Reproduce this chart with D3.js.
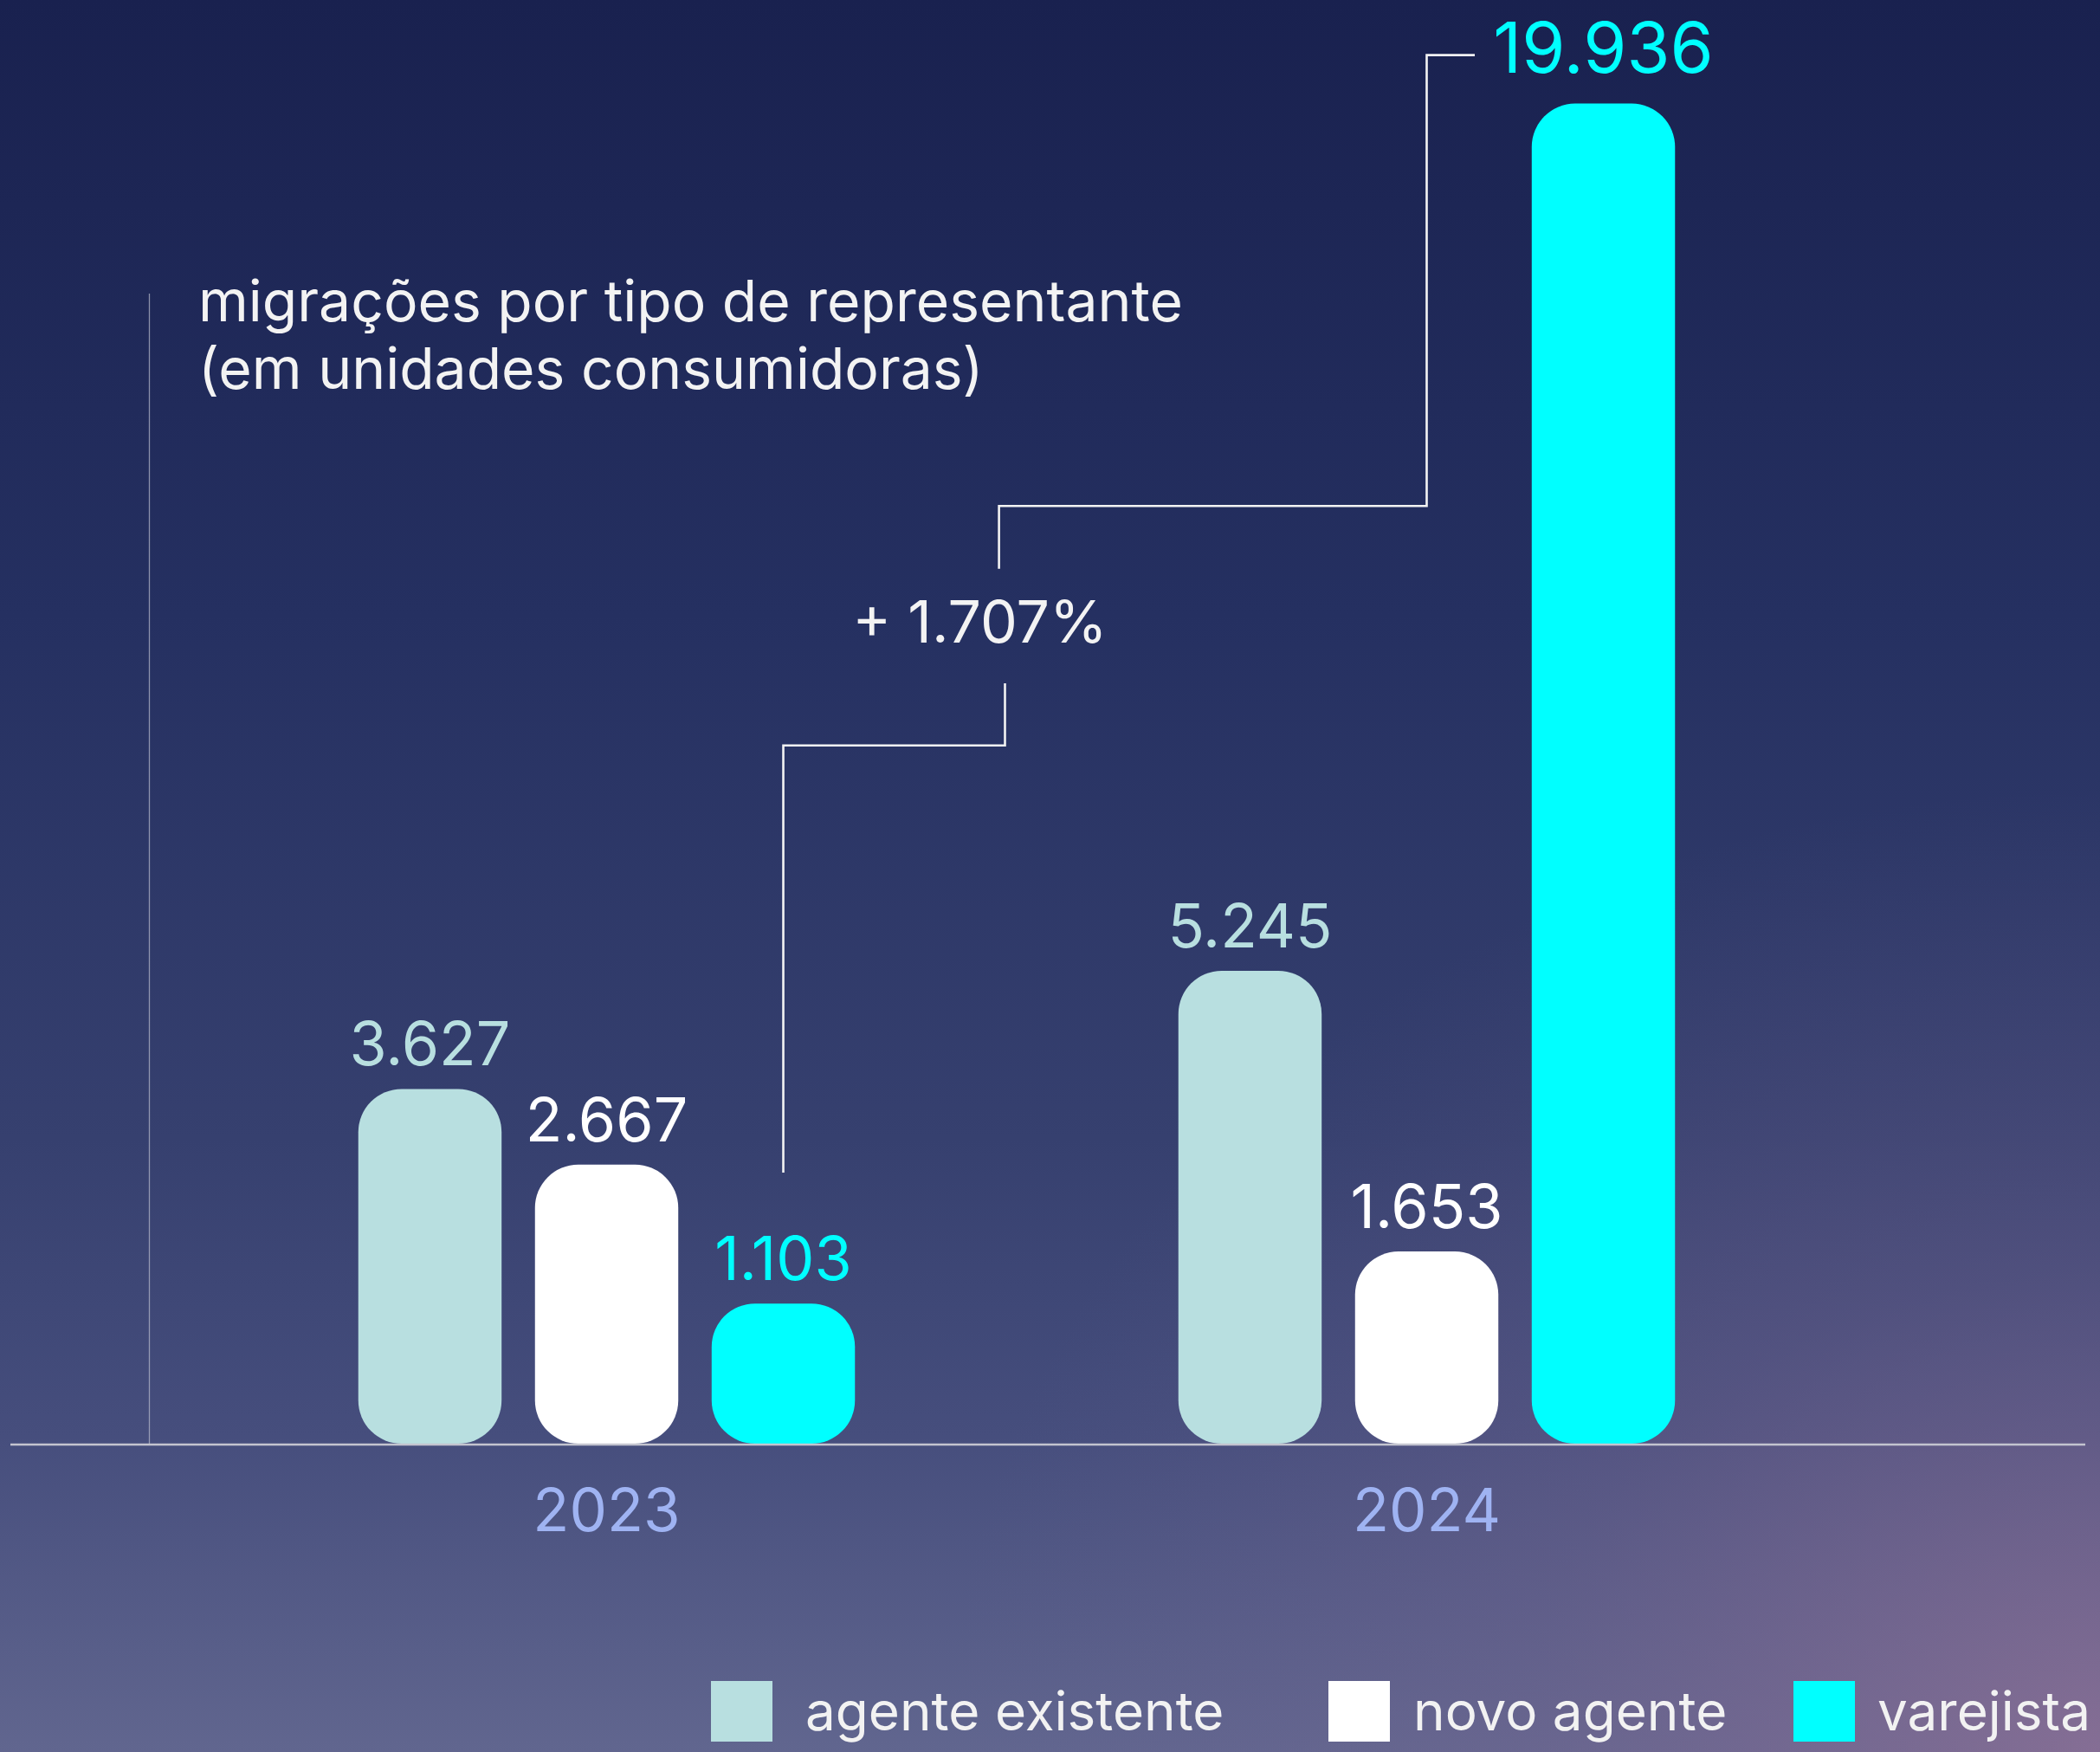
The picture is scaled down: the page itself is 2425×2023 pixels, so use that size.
<!DOCTYPE html>
<html>
<head>
<meta charset="utf-8">
<script src="https://cdn.jsdelivr.net/npm/d3@7"></script>
<style>
  html, body { margin: 0; padding: 0; background: #1a2251; }
  svg { display: block; }
  text { font-family: Inter, "Noto Sans", sans-serif; }
</style>
</head>
<body>
<script>
// ---- data ----
const years = ["2023", "2024"];
const seriesNames = ["agente existente", "novo agente", "varejista"];
const agenteExistente = [3627, 5245];
const novoAgente = [2667, 1653];
const varejista = [1103, 19936];
const seriesColors = ["#b8dfe0", "#ffffff", "#00ffff"];
const titleLines = ["migrações por tipo de representante", "(em unidades consumidoras)"];

const W = 2425, H = 2023;
const baseY = 1667;

const fmt = d3.formatLocale({decimal: ",", thousands: ".", grouping: [3], currency: ["R$", ""]}).format(",d");

const rows = years.map((y, i) => ({
  year: y,
  values: [agenteExistente[i], novoAgente[i], varejista[i]]
}));

const svg = d3.select("body").append("svg").attr("width", W).attr("height", H);
const defs = svg.append("defs");

// background
const lg = defs.append("linearGradient").attr("id", "bg").attr("x1", 0).attr("y1", 0).attr("x2", 0).attr("y2", 1);
[[0, "#19214f"], [0.35, "#253061"], [0.65, "#36406f"], [0.82, "#464e7d"], [1, "#61668f"]]
  .forEach(([o, c]) => lg.append("stop").attr("offset", o).attr("stop-color", c));
svg.append("rect").attr("width", W).attr("height", H).attr("fill", "url(#bg)");
const rg = defs.append("radialGradient").attr("id", "glow").attr("cx", 1).attr("cy", 1).attr("r", 0.55);
rg.append("stop").attr("offset", 0).attr("stop-color", "#8e7096").attr("stop-opacity", 0.8);
rg.append("stop").attr("offset", 0.5).attr("stop-color", "#7a6690").attr("stop-opacity", 0.3);
rg.append("stop").attr("offset", 1).attr("stop-color", "#6a6090").attr("stop-opacity", 0);
svg.append("rect").attr("width", W).attr("height", H).attr("fill", "url(#glow)");

// scales
const x0 = d3.scaleBand().domain(years).range([227, 2121]).padding(0);
const x1 = d3.scaleBand().domain(seriesNames).range([0, 573.5]).paddingInner(0.189).paddingOuter(0);
const maxV = d3.max(rows, r => d3.max(r.values));
const y = d3.scalePow().exponent(0.78).domain([0, maxV]).range([baseY, 119.6]);
const color = d3.scaleOrdinal().domain(seriesNames).range(seriesColors);

const groupLeft = yr => x0(yr) + x0.bandwidth() / 2 - 573.5 / 2;

// left thin vertical line
svg.append("line").attr("x1", 172.5).attr("x2", 172.5).attr("y1", 339).attr("y2", baseY)
  .attr("stroke", "#b9bccd").attr("stroke-opacity", 0.7).attr("stroke-width", 1.3);

// title
svg.append("text").attr("x", 229).attr("y", 371).attr("fill", "#f3f3f3").attr("font-size", 66)
  .selectAll("tspan").data(titleLines).join("tspan")
  .attr("x", 229).attr("dy", (d, i) => i === 0 ? 0 : 78).text(d => d);

// bars
const groups = svg.selectAll("g.grp").data(rows).join("g").attr("class", "grp")
  .attr("transform", d => `translate(${groupLeft(d.year)},0)`);

const cells = groups.selectAll("g.cell")
  .data(d => d.values.map((v, i) => ({year: d.year, key: seriesNames[i], value: v})))
  .join("g").attr("class", "cell");

cells.append("rect")
  .attr("x", d => x1(d.key)).attr("width", x1.bandwidth())
  .attr("y", d => y(d.value)).attr("height", d => baseY - y(d.value))
  .attr("rx", 50).attr("ry", 50)
  .attr("fill", d => color(d.key));

cells.append("text")
  .attr("x", d => x1(d.key) + x1.bandwidth() / 2)
  .attr("y", d => y(d.value) - (d.value === maxV ? 36 : 27))
  .attr("text-anchor", "middle")
  .attr("font-size", d => d.value === maxV ? 81 : 70)
  .attr("fill", d => color(d.key))
  .text(d => fmt(d.value));

// axis baseline
const xAxis = d3.axisBottom(x0).tickSize(0).tickPadding(0);
const ax = svg.append("g").attr("transform", `translate(0,${baseY})`).call(xAxis);
ax.select(".domain").remove();
ax.selectAll(".tick text").attr("y", 101).attr("dy", 0).attr("font-size", 69)
  .attr("font-family", "Inter, sans-serif").attr("fill", "#9fb3f2");
svg.append("line").attr("x1", 12).attr("x2", 2408).attr("y1", baseY + 1).attr("y2", baseY + 1)
  .attr("stroke", "#c3c4cf").attr("stroke-width", 2.6);

// growth annotation
const v0 = varejista[0], v1 = varejista[1];
const growth = Math.round((v1 - v0) / v0 * 100);
const startX = groupLeft(years[0]) + x1("varejista") + x1.bandwidth() / 2;
const endX = x0(years[1]) + x0.bandwidth() / 2;
const labelTopY = y(maxV) - 56;
const lower = [[startX, 1354], [startX, 860.7], [1160.5, 860.7], [1160.5, 789]];
const upper = [[1153.6, 656.7], [1153.6, 584.3], [endX, 584.3], [endX, labelTopY], [1703, labelTopY]];
const line = d3.line();
[lower, upper].forEach(p => svg.append("path").attr("d", line(p)).attr("fill", "none")
  .attr("stroke", "#f3f3f3").attr("stroke-width", 2.6));
svg.append("text").attr("x", 1131.5).attr("y", 742).attr("text-anchor", "middle")
  .attr("font-size", 68).attr("fill", "#f3f3f3").text("+ " + fmt(growth) + "%");

// legend
const legendX = [821, 1534, 2071];
const legendTextX = [930, 1632, 2168];
const leg = svg.selectAll("g.leg").data(seriesNames).join("g").attr("class", "leg");
leg.append("rect").attr("x", (d, i) => legendX[i]).attr("y", 1941)
  .attr("width", 71).attr("height", 70).attr("fill", d => color(d));
leg.append("text").attr("x", (d, i) => legendTextX[i]).attr("y", 1998)
  .attr("font-size", 62).attr("fill", "#f2f2f2").text(d => d);
</script>
</body>
</html>
